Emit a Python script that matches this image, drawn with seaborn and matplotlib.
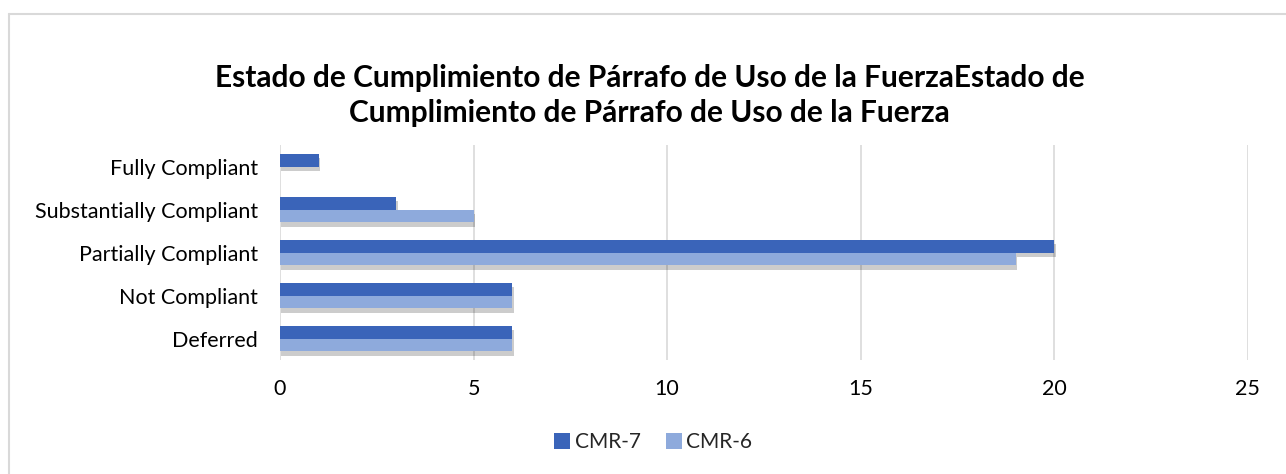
import matplotlib
matplotlib.use("Agg")
import matplotlib.pyplot as plt
import matplotlib.patheffects as pe
from matplotlib.lines import Line2D
import seaborn as sns
import pandas as pd

categories = ["Fully Compliant", "Substantially Compliant", "Partially Compliant", "Not Compliant", "Deferred"]
series_names = ["CMR-7", "CMR-6"]
cmr7 = [1, 3, 20, 6, 6]
cmr6 = [0, 5, 19, 6, 6]
xticks = [0, 5, 10, 15, 20, 25]
title = "Estado de Cumplimiento de Párrafo de Uso de la FuerzaEstado de\nCumplimiento de Párrafo de Uso de la Fuerza"
colors = ["#3a64b9", "#8eaadc"]

df = pd.DataFrame({
    "category": categories * 2,
    "value": cmr7 + cmr6,
    "series": [series_names[0]] * len(categories) + [series_names[1]] * len(categories),
})

sns.set_theme(style="white")
plt.rcParams["font.family"] = ["Lato", "DejaVu Sans"]

fig = plt.figure(figsize=(12.86, 4.74), dpi=100)
ax = fig.add_axes([0.2177, 0.2405, 0.7527, 0.4535])

sns.barplot(data=df, x="value", y="category", hue="series", order=categories,
            hue_order=series_names, palette=colors, orient="h", width=0.6,
            saturation=1, ax=ax, legend=False, zorder=3)

for p in ax.patches:
    p.set_path_effects([pe.withSimplePatchShadow(offset=(1.0, -3.0), shadow_rgbFace="black", alpha=0.2)])
    p.set_linewidth(0)

ax.set_xlim(0, 25)
ax.set_ylim(4.5, -0.5)
ax.set_xticks(xticks)
ax.set_xticklabels([str(t) for t in xticks], fontsize=15.5, color="#000000")
ax.tick_params(axis="y", labelsize=15.5, colors="#000000", length=0, pad=16)
ax.tick_params(axis="x", length=0, pad=14)
ax.grid(axis="x", color="#d9d9d9", linewidth=1.2, zorder=0)
ax.set_axisbelow(True)
for s in ax.spines.values():
    s.set_visible(False)
ax.set_xlabel("")
ax.set_ylabel("")

fig.text(0.505, 0.798, title, ha="center", va="center", fontsize=21.5, fontweight="bold",
         color="#000000", linespacing=1.3)

handles = [Line2D([0], [0], marker="s", linestyle="", markersize=11, markerfacecolor=c,
                  markeredgewidth=0) for c in colors]
fig.legend(handles, series_names, loc="center", bbox_to_anchor=(0.507, 0.067), ncol=2,
           frameon=False, fontsize=15, handletextpad=0.1, columnspacing=1.1, handlelength=1.0)

# outer chart border (left and top visible)
fig.add_artist(Line2D([0.0070, 0.0070], [0.0, 0.971], transform=fig.transFigure, color="#d9d9d9", linewidth=1.5))
fig.add_artist(Line2D([0.0070, 1.0], [0.971, 0.971], transform=fig.transFigure, color="#d9d9d9", linewidth=1.5))

fig.savefig("out.png", dpi=100, facecolor="white")
